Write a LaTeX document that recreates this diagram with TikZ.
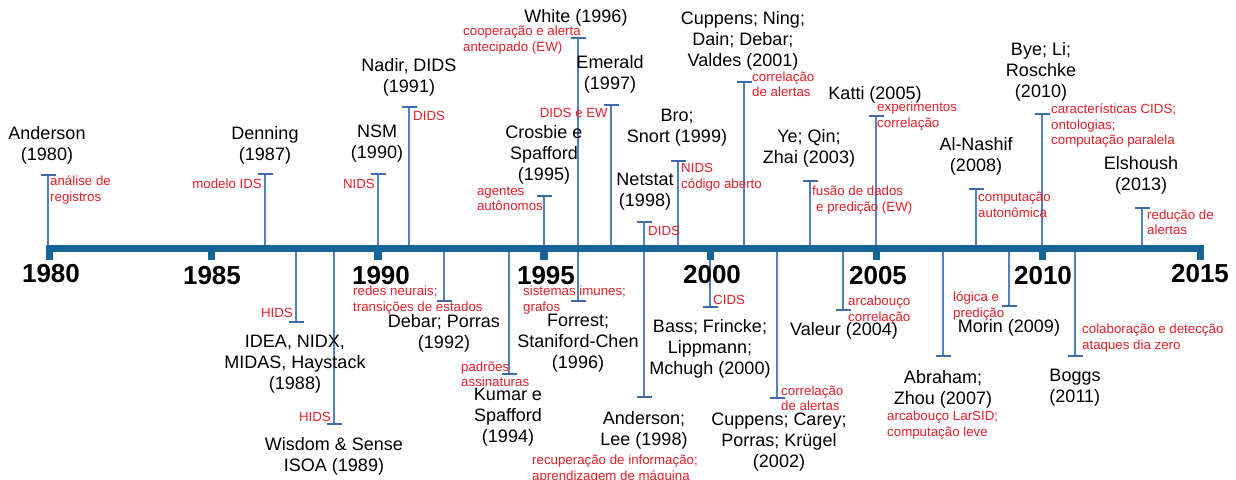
\documentclass[tikz,border=0pt]{standalone}
\usepackage{fontspec}
\setmainfont{Liberation Sans}
\usetikzlibrary{calc}

\definecolor{barblue}{RGB}{22,100,152}
\definecolor{stemblue}{RGB}{84,128,192}
\definecolor{capblue}{RGB}{62,105,172}
\definecolor{labelred}{RGB}{228,32,40}

\tikzset{
  author/.style={align=center, inner sep=0pt, font=\fontsize{18}{21}\selectfont, text=black},
  note/.style={align=left, inner sep=0pt, font=\fontsize{13.3}{15.5}\selectfont, text=labelred},
  yearlbl/.style={inner sep=0pt, font=\fontsize{26}{30}\selectfont\bfseries, text=black},
  stemline/.style={draw=stemblue, line width=1.4pt},
  stemcap/.style={draw=capblue, line width=2pt},
  barfill/.style={fill=barblue, draw=none},
}

% one event stem: name, x, y on the bar, y of the cap
\newcommand{\eventstem}[4]{%
  \coordinate (#1-base) at (#2,#3);
  \coordinate (#1-cap) at (#2,#4);
  \draw[stemline] (#1-base) -- (#1-cap);
  \draw[stemcap] ($(#1-cap)+(-7.5,0)$) -- ($(#1-cap)+(7.5,0)$);
}

\begin{document}
\begin{tikzpicture}[x=1pt,y=-1pt]
\useasboundingbox[fill=white] (0,0) rectangle (1236,479);
\clip (0,0) rectangle (1236,479);

% ---- stems above the bar
\eventstem{anderson80}{48}{246}{175}
\eventstem{denning87}{265}{246}{174}
\eventstem{nsm90}{378}{246}{174}
\eventstem{nadir91}{409}{246}{107}
\eventstem{crosbie95}{544}{246}{196}
\eventstem{white96}{578}{246}{38}
\eventstem{emerald97}{611}{246}{105}
\eventstem{netstat98}{644}{246}{222}
\eventstem{bro99}{678}{246}{161}
\eventstem{cuppens01}{744}{246}{82}
\eventstem{ye03}{810}{246}{181}
\eventstem{katti05}{876}{246}{116}
\eventstem{alnashif08}{976}{246}{189}
\eventstem{bye10}{1042}{246}{114}
\eventstem{elshoush13}{1142}{246}{208}

% ---- stems below the bar
\eventstem{idea88}{296}{251}{322}
\eventstem{wisdom89}{334}{251}{424}
\eventstem{debar92}{444}{251}{301}
\eventstem{kumar94}{509}{251}{374}
\eventstem{forrest96}{578}{251}{301}
\eventstem{andlee98}{644}{251}{397}
\eventstem{bass00}{710}{251}{307}
\eventstem{cuppens02}{777}{251}{398}
\eventstem{valeur04}{843}{251}{310}
\eventstem{abraham07}{943}{251}{356}
\eventstem{morin09}{1009}{251}{306}
\eventstem{boggs11}{1075}{251}{356}

% ---- time axis with five-year ticks
\fill[barfill] (46,245) rectangle (1204,252);
\foreach \tx in {49.5,211.5,378,544,710.5,876.5,1042.5,1200.5}
  \fill[barfill] (\tx-3.8,250) rectangle (\tx+3.8,260);

% ---- year labels
\node[yearlbl] (y1980) at (51,274) {1980};
\node[yearlbl] (y1985) at (212,276) {1985};
\node[yearlbl] (y1990) at (381,276) {1990};
\node[yearlbl] (y1995) at (546,276) {1995};
\node[yearlbl] (y2000) at (712,275) {2000};
\node[yearlbl] (y2005) at (878,276) {2005};
\node[yearlbl] (y2010) at (1043,276) {2010};
\node[yearlbl] (y2015) at (1200,274) {2015};

% ---- authors above the bar
\node[author] (anderson80-a) at (47,145) {Anderson\\(1980)};
\node[author] (denning87-a) at (265,145) {Denning\\(1987)};
\node[author] (nsm90-a) at (377,144) {NSM\\(1990)};
\node[author] (nadir91-a) at (409,77) {Nadir, DIDS\\(1991)};
\node[author] (crosbie95-a) at (544,155) {Crosbie e\\Spafford\\(1995)};
\node[author] (white96-a) at (576,18) {White (1996)};
\node[author] (emerald97-a) at (610,74) {Emerald\\(1997)};
\node[author] (netstat98-a) at (645,192) {Netstat\\(1998)};
\node[author] (bro99-a) at (677,128) {Bro;\\Snort (1999)};
\node[author] (cuppens01-a) at (743,41) {Cuppens; Ning;\\Dain; Debar;\\Valdes (2001)};
\node[author] (ye03-a) at (809,148) {Ye; Qin;\\Zhai (2003)};
\node[author] (katti05-a) at (875,95) {Katti (2005)};
\node[author] (alnashif08-a) at (976,156) {Al-Nashif\\(2008)};
\node[author] (bye10-a) at (1041,72) {Bye; Li;\\Roschke\\(2010)};
\node[author] (elshoush13-a) at (1141,175) {Elshoush\\(2013)};

% ---- authors below the bar
\node[author] (idea88-a) at (295,364) {IDEA, NIDX,\\MIDAS, Haystack\\(1988)};
\node[author] (wisdom89-a) at (334,456) {Wisdom \& Sense\\ISOA (1989)};
\node[author] (debar92-a) at (444,333) {Debar; Porras\\(1992)};
\node[author] (kumar94-a) at (508,417) {Kumar e\\Spafford\\(1994)};
\node[author] (forrest96-a) at (578,343) {Forrest;\\Staniford-Chen\\(1996)};
\node[author] (andlee98-a) at (644,430) {Anderson;\\Lee (1998)};
\node[author] (bass00-a) at (710,349) {Bass; Frincke;\\Lippmann;\\Mchugh (2000)};
\node[author] (cuppens02-a) at (779,442) {Cuppens; Carey;\\Porras; Krügel\\(2002)};
\node[author] (valeur04-a) at (844,331) {Valeur (2004)};
\node[author] (abraham07-a) at (943,389) {Abraham;\\Zhou (2007)};
\node[author] (morin09-a) at (1009,328) {Morin (2009)};
\node[author, align=left] (boggs11-a) at (1075,388) {Boggs\\(2011)};

% ---- topic notes above the bar
\node[note, anchor=west] (anderson80-n) at (50,190) {análise de\\registros};
\node[note, anchor=east] (denning87-n) at (262,184) {modelo IDS};
\node[note, anchor=east] (nsm90-n) at (375,184) {NIDS};
\node[note, anchor=west] (nadir91-n) at (413,116) {DIDS};
\node[note, anchor=east] (crosbie95-n) at (543,199) {agentes\\autônomos};
\node[note, anchor=west] (white96-n) at (463,40) {cooperação e alerta\\antecipado (EW)};
\node[note, anchor=east] (emerald97-n) at (608,113) {DIDS e EW};
\node[note, anchor=west] (netstat98-n) at (648,231) {DIDS};
\node[note, anchor=west] (bro99-n) at (681,177) {NIDS\\código aberto};
\node[note, anchor=west] (cuppens01-n) at (752,84) {correlação\\de alertas};
\node[note, anchor=west] (ye03-n) at (812,200) {fusão de dados\\\hspace*{4pt}e predição (EW)};
\node[note, anchor=west] (katti05-n) at (877,116) {experimentos\\correlação};
\node[note, anchor=west] (alnashif08-n) at (978,205) {computação\\autonômica};
\node[note, anchor=west] (bye10-n) at (1051,126) {características CIDS;\\ontologias;\\computação paralela};
\node[note, anchor=west] (elshoush13-n) at (1147,222) {redução de\\alertas};

% ---- topic notes below the bar
\node[note, anchor=east] (idea88-n) at (293,313) {HIDS};
\node[note, anchor=east] (wisdom89-n) at (331,417) {HIDS};
\node[note, anchor=west] (debar92-n) at (353,300) {redes neurais;\\transições de estados};
\node[note, anchor=west] (kumar94-n) at (461,374) {padrões\\assinaturas};
\node[note, anchor=west] (forrest96-n) at (523,300) {sistemas imunes;\\grafos};
\node[note, anchor=north west] (andlee98-n) at (532,455) {recuperação de informação;\\aprendizagem de máquina};
\node[note, anchor=west] (bass00-n) at (713,300) {CIDS};
\node[note, anchor=west] (cuppens02-n) at (781,398) {correlação\\de alertas};
\node[note, anchor=west] (valeur04-n) at (848,310) {arcabouço\\correlação};
\node[note, anchor=west] (abraham07-n) at (887,425) {arcabouço LarSID;\\computação leve};
\node[note, anchor=west] (morin09-n) at (953,306) {lógica e\\predição};
\node[note, anchor=west] (boggs11-n) at (1082,338) {colaboração e detecção\\ataques dia zero};
\end{tikzpicture}
\end{document}
